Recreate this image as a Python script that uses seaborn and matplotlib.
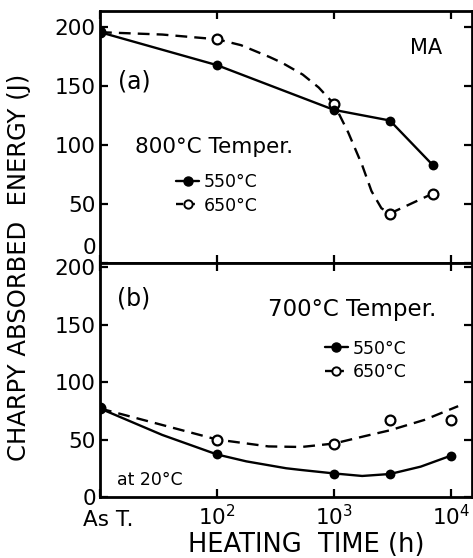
import matplotlib
matplotlib.use("Agg")
import matplotlib.pyplot as plt
import matplotlib.transforms as mtransforms
from matplotlib.lines import Line2D
from matplotlib.legend_handler import HandlerLine2D
import numpy as np
import pandas as pd
import seaborn as sns

# ---------------- data ----------------
tick_hours = [10, 100, 1000, 10000]          # "As T." placed at 10 h
tick_labels = ["As T.", "10$^2$", "10$^3$", "10$^4$"]

# (a) 800C tempered
a_hours = [10, 100, 1000, 3000, 7000]
a_550 = [196, 168, 130, 121, 83]
a_650 = [196, 190, 135, 42, 59]
# hand-drawn trend curves
a_550_curve_hours = [10, 100, 1000, 3000, 7000]
a_550_curve = [196, 168, 130, 121, 83]
a_650_curve_hours = [10, 34, 100, 160, 280, 360, 540, 740, 1000, 1320, 1740, 2090, 2540, 3000, 7000]
a_650_curve = [196, 194, 190, 185, 175, 170, 160, 149, 135, 111, 83, 61, 46.5, 42, 59]

# (b) 700C tempered
b_hours = [10, 100, 1000, 3000, 10000]
b_550 = [77, 37, 20, 20, 36]
b_650 = [77, 50, 46, 67, 67]
b_550_curve_hours = [10, 34, 100, 178, 390, 525, 1000, 1740, 3000, 5500, 10000]
b_550_curve = [77, 54, 37, 31, 25, 23.5, 20.5, 18.3, 20, 26.4, 36]
b_650_curve_hours = [10, 100, 275, 525, 1000, 1840, 3000, 5900, 11500]
b_650_curve = [77, 50, 44, 43.5, 46.5, 53, 58, 67, 79]

yticks = [0, 50, 100, 150, 200]

# ---------------- style ----------------
sns.set_style("ticks", {"axes.edgecolor": "black", "xtick.color": "black",
                        "ytick.color": "black", "text.color": "black",
                        "axes.labelcolor": "black"})
plt.rcParams["font.family"] = ["DejaVu Sans"]
plt.rcParams["axes.linewidth"] = 2.0
plt.rcParams["text.color"] = "black"

fig = plt.figure(figsize=(4.73, 5.58), dpi=100)
ax1 = fig.add_axes([0.2114, 0.5287, 0.7865, 0.4516])
ax2 = fig.add_axes([0.2114, 0.1093, 0.7865, 0.4194])

DASH = (0, (5, 3))
LW = 1.7
MS = 50


class MarkerLeftHandler(HandlerLine2D):
    def get_xdata(self, legend, xdescent, ydescent, width, height, fontsize):
        xdata = np.array([-xdescent, -xdescent + width])
        return xdata, np.array([-xdescent])


def draw_panel(ax, hours, v550, v650, c550h, c550, c650h, c650):
    sns.lineplot(x=c550h, y=c550, ax=ax, color="black", lw=LW, sort=False)
    sns.lineplot(x=c650h, y=c650, ax=ax, color="black", lw=LW, sort=False)
    ax.lines[-1].set_linestyle(DASH)
    sns.scatterplot(x=hours, y=v650, ax=ax, marker="o", s=MS, facecolor="white",
                    edgecolor="black", linewidth=1.6, zorder=5)
    sns.scatterplot(x=hours, y=v550, ax=ax, marker="o", s=MS, color="black",
                    edgecolor="black", linewidth=0, zorder=6)
    ax.set_xscale("log")
    ax.set_xlim(10, 15100)
    ax.set_xticks(tick_hours)
    ax.xaxis.set_minor_locator(matplotlib.ticker.NullLocator())
    ax.set_yticks(yticks)
    ax.tick_params(axis="both", which="major", direction="in", length=6, width=1.6,
                   labelsize=15.5, top=True, right=True, pad=3, colors="black")
    ax.tick_params(axis="x", pad=5)
    ax.set_xlabel("")
    ax.set_ylabel("")
    for s in ax.spines.values():
        s.set_linewidth(2.0)
        s.set_visible(True)
        s.set_color("black")


draw_panel(ax1, a_hours, a_550, a_650, a_550_curve_hours, a_550_curve,
           a_650_curve_hours, a_650_curve)
draw_panel(ax2, b_hours, b_550, b_650, b_550_curve_hours, b_550_curve,
           b_650_curve_hours, b_650_curve)

ax1.set_ylim(0, 214)
ax2.set_ylim(0, 203.5)
ax1.set_xticklabels([])
ax2.set_xticklabels(tick_labels)

fig.canvas.draw()
# raise the top panel "0" label so it does not clash with the lower "200"
lab0 = ax1.yaxis.get_major_ticks()[0].label1
lab0.set_transform(lab0.get_transform() +
                   mtransforms.ScaledTranslation(0, 12 / 72, fig.dpi_scale_trans))
# nudge "As T." slightly right and down, as in the original
labA = ax2.xaxis.get_major_ticks()[0].label1
labA.set_transform(labA.get_transform() +
                   mtransforms.ScaledTranslation(6 / 72, -4 / 72, fig.dpi_scale_trans))

# legends
def add_legend(ax, anchor):
    h = [Line2D([], [], color="black", lw=LW, marker="o", markersize=6.5,
                markerfacecolor="black"),
         Line2D([], [], color="black", lw=LW, linestyle=(0, (3, 2)), marker="o",
                markersize=6, markerfacecolor="white", markeredgewidth=1.4)]
    leg = ax.legend(h, ["550°C", "650°C"], loc="center left", bbox_to_anchor=anchor,
                    frameon=False, fontsize=12.5, handlelength=1.3, handletextpad=0.3,
                    borderpad=0, borderaxespad=0, labelspacing=0.3,
                    handler_map={Line2D: MarkerLeftHandler()})
    for t in leg.get_texts():
        t.set_color("black")
    return leg

add_legend(ax1, (0.205, 0.274))
add_legend(ax2, (0.605, 0.585))

# annotations
ax1.text(0.048, 0.722, "(a)", transform=ax1.transAxes, fontsize=17, ha="left", va="center")
ax1.text(0.877, 0.853, "MA", transform=ax1.transAxes, fontsize=15, ha="center", va="center")
ax1.text(0.094, 0.46, "800°C Temper.", transform=ax1.transAxes, fontsize=15.5, ha="left", va="center")
ax2.text(0.046, 0.85, "(b)", transform=ax2.transAxes, fontsize=17, ha="left", va="center")
ax2.text(0.452, 0.803, "700°C Temper.", transform=ax2.transAxes, fontsize=16.5, ha="left", va="center")
ax2.text(0.046, 0.073, "at 20°C", transform=ax2.transAxes, fontsize=12.5, ha="left", va="center")

fig.text(0.04, 0.52, "CHARPY ABSORBED  ENERGY (J)", rotation=90, fontsize=17.5,
         ha="center", va="center")
fig.text(0.647, 0.024, "HEATING  TIME (h)", fontsize=18.5, ha="center", va="center")

fig.savefig("out.png", dpi=100)
